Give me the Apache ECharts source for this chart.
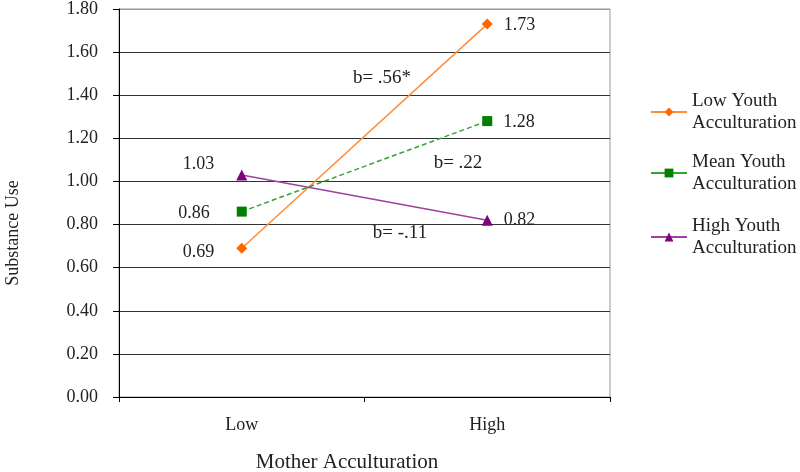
<!DOCTYPE html>
<html><head><meta charset="utf-8">
<script src="https://cdn.jsdelivr.net/npm/echarts@6/dist/echarts.min.js"></script>
<style>html,body{margin:0;padding:0;background:#fff}#c{width:800px;height:472px}</style>
</head><body><div id="c"></div>
<script>
var categories = ['Low', 'High'];
var lowYouth = [0.69, 1.73];
var meanYouth = [0.86, 1.28];
var highYouth = [1.03, 0.82];
var seriesNames = ['Low Youth\nAcculturation', 'Mean Youth\nAcculturation', 'High Youth\nAcculturation'];
var slopeTexts = ['b= .56*', 'b= .22', 'b= -.11'];
var xTitle = 'Mother Acculturation';
var yTitle = 'Substance Use';

var F = 'Liberation Serif, Times New Roman, serif';
var chart = echarts.init(document.getElementById('c'));
var gridColors = ['#333','#333','#333','#333','#333','#333','#333','#333','#333','#999'];

function legendFor(name, top) {
  return {
    data: [name], left: 650, top: top, orient: 'vertical', padding: 0,
    itemWidth: 36, itemHeight: 11, itemGap: 5, selectedMode: false,
    lineStyle: {type: 'solid'},
    textStyle: {fontFamily: F, fontSize: 19, color: '#222', lineHeight: 22, padding: [22, 0, 0, 0]}
  };
}

function makeLabel() {
  return {show: true, fontFamily: F, fontSize: 18, color: '#222',
    formatter: function (p) { return p.value.toFixed(2); }};
}

function layout(dxL, dyL, dyR) {
  return function (p) {
    var cy = p.rect.y + p.rect.height / 2;
    return p.dataIndex === 0 ? {x: p.rect.x - dxL, y: cy + dyL, align: 'right', verticalAlign: 'middle'}
      : {x: p.rect.x + p.rect.width + 11, y: cy + dyR, align: 'left', verticalAlign: 'middle'};
  };
}

chart.setOption({
  animation: false,
  grid: {left: 119, right: 190, top: 9, bottom: 75, show: true, borderColor: '#999', borderWidth: 1},
  xAxis: {
    type: 'category', data: categories, boundaryGap: true,
    axisLine: {lineStyle: {color: '#000', width: 1}},
    axisTick: {show: true, length: 5, lineStyle: {color: '#000'}},
    axisLabel: {fontFamily: F, fontSize: 18, color: '#222', margin: 19}
  },
  yAxis: {
    type: 'value', min: 0, max: 1.8, interval: 0.2,
    axisLine: {show: true, lineStyle: {color: '#000', width: 1}},
    axisTick: {show: true, length: 6, lineStyle: {color: '#000'}},
    axisLabel: {fontFamily: F, fontSize: 18, color: '#222', margin: 21, formatter: function (v) { return v.toFixed(2); }},
    splitLine: {show: true, lineStyle: {color: gridColors, width: 1}}
  },
  legend: [legendFor(seriesNames[0], 112 - 33), legendFor(seriesNames[1], 173 - 33), legendFor(seriesNames[2], 237 - 33)],
  series: [
    {
      name: seriesNames[0], type: 'line', data: lowYouth,
      symbol: 'diamond', symbolSize: 11,
      lineStyle: {color: '#FF8C3A', width: 1.5}, itemStyle: {color: '#FF6600'},
      label: makeLabel(), labelLayout: layout(22, 4, 1)
    },
    {
      name: seriesNames[1], type: 'line', data: meanYouth,
      symbol: 'rect', symbolSize: 10,
      lineStyle: {color: '#33A333', width: 1.5, type: [5, 3]}, itemStyle: {color: '#008000'},
      label: makeLabel(), labelLayout: layout(27, 2, 1)
    },
    {
      name: seriesNames[2], type: 'line', data: highYouth,
      symbol: 'triangle', symbolSize: 11,
      lineStyle: {color: '#A040A0', width: 1.5}, itemStyle: {color: '#800080'},
      label: makeLabel(), labelLayout: layout(22, -11, 0)
    }
  ],
  graphic: [
    {type: 'text', x: 382, y: 78, style: {text: slopeTexts[0], font: '19px ' + F, fill: '#222', align: 'center', verticalAlign: 'middle'}},
    {type: 'text', x: 458, y: 163, style: {text: slopeTexts[1], font: '19px ' + F, fill: '#222', align: 'center', verticalAlign: 'middle'}},
    {type: 'text', x: 400, y: 233, style: {text: slopeTexts[2], font: '19px ' + F, fill: '#222', align: 'center', verticalAlign: 'middle'}},
    {type: 'text', x: 347, y: 462, style: {text: xTitle, font: '21px ' + F, fill: '#222', align: 'center', verticalAlign: 'middle'}},
    {type: 'text', x: 13, y: 233, rotation: Math.PI / 2, style: {text: yTitle, font: '18px ' + F, fill: '#222', align: 'center', verticalAlign: 'middle'}}
  ]
});
</script></body></html>
